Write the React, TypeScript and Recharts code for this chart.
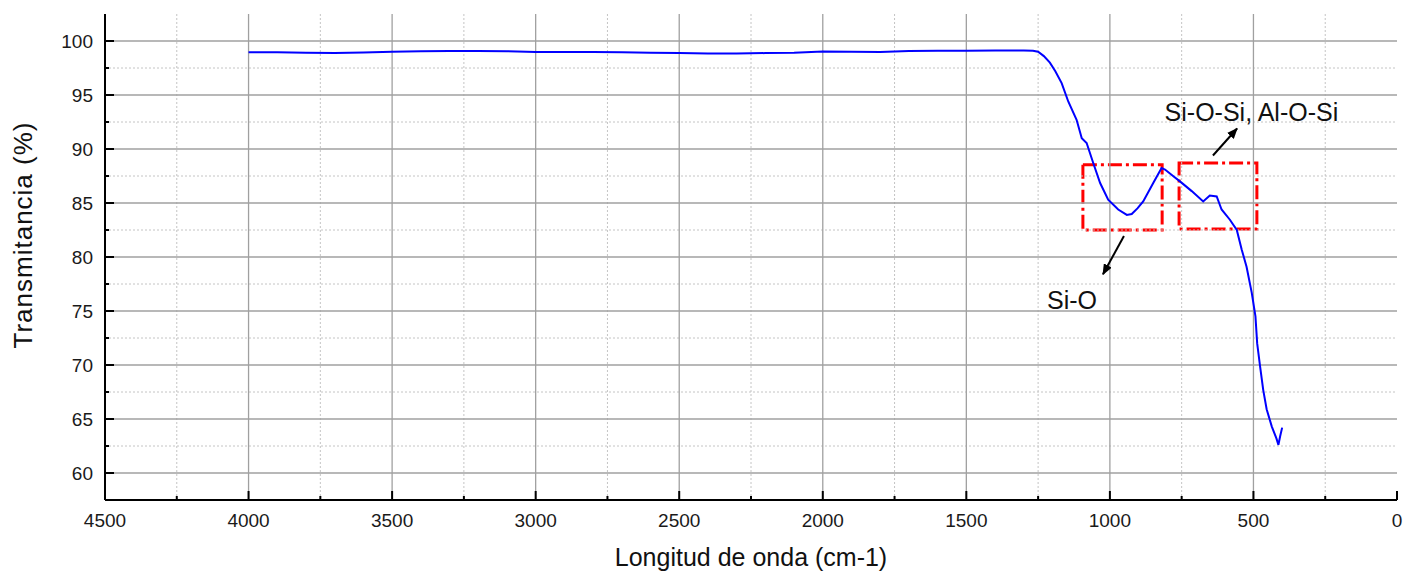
import React from "react"
import { LineChart, Line, XAxis, YAxis, ReferenceLine, ReferenceArea, ReferenceDot } from "recharts"

const wavenumbers = [
  4000, 3900, 3800, 3700, 3600, 3500, 3400, 3300, 3200, 3100, 3000, 2900, 2800, 2700, 2600, 2500, 2400, 2300,
  2200, 2100, 2000, 1900, 1800, 1700, 1600, 1500, 1400, 1300, 1268, 1250, 1230, 1209, 1190, 1168, 1145, 1116,
  1098, 1081, 1058, 1034, 1006, 971, 941, 924, 904, 884, 849, 820, 808, 780, 756, 715, 675, 652, 628, 611, 582,
  558, 541, 524, 506, 493, 487, 477, 466, 454, 436, 420, 413, 407, 400,
]
const transmittance = [
  98.95, 98.95, 98.92, 98.9, 98.93, 99.0, 99.05, 99.07, 99.07, 99.05, 98.98, 98.97, 98.98, 98.95, 98.92, 98.9,
  98.85, 98.85, 98.88, 98.92, 99.02, 99.0, 98.98, 99.08, 99.1, 99.1, 99.12, 99.12, 99.1, 99.0, 98.6, 98.0, 97.2,
  96.1, 94.4, 92.7, 91.0, 90.55, 88.7, 86.85, 85.3, 84.4, 83.9, 83.98, 84.5, 85.15, 86.85, 88.24, 88.1, 87.5,
  87.0, 86.1, 85.15, 85.7, 85.6, 84.4, 83.45, 82.5, 80.7, 79.1, 76.7, 74.5, 72.0, 69.9, 67.7, 65.9, 64.3, 63.2,
  62.6, 63.4, 64.2,
]

const xTicks = [0, 250, 500, 750, 1000, 1250, 1500, 1750, 2000, 2250, 2500, 2750, 3000, 3250, 3500, 3750, 4000, 4250, 4500]
const yTicks = [60, 62.5, 65, 67.5, 70, 72.5, 75, 77.5, 80, 82.5, 85, 87.5, 90, 92.5, 95, 97.5, 100]
const xMajorGrid = [500, 1000, 1500, 2000, 2500, 3000, 3500, 4000]
const xMinorGrid = [250, 750, 1250, 1750, 2250, 2750, 3250, 3750, 4250]
const yMajorGrid = [60, 65, 70, 75, 80, 85, 90, 95, 100]
const yMinorGrid = [62.5, 67.5, 72.5, 77.5, 82.5, 87.5, 92.5, 97.5]

// bands boxed in red: [x1, x2, y1, y2]
const boxes = [
  [1094, 818, 82.5, 88.55],
  [759, 488, 82.6, 88.7],
]
// arrows: [fromX, fromY, toX, toY]
const arrows = [
  [951, 81.95, 1024, 78.4],
  [641, 89.4, 557, 91.9],
]
const notes = [
  { label: "Si-O", x: 1132, y: 76.0 },
  { label: "Si-O-Si, Al-O-Si", x: 507, y: 93.45 },
]

const spectrum = wavenumbers.map((wn, i) => ({ wn, t: transmittance[i] }))

const FONT = '"Liberation Sans", Arial, sans-serif'
const tickText = { fontFamily: FONT, fontSize: 19, fill: "#1a1a1a" }

const BottomTick = (props: any) => {
  const { x, y, payload } = props
  const major = payload.value % 500 === 0
  return (
    <g>
      <line x1={x} x2={x} y1={y} y2={y - (major ? 9 : 4)} stroke="#000" strokeWidth={2} />
      {major && (
        <text x={x} y={y + 20} dy="0.35em" textAnchor="middle" {...tickText}>
          {payload.value}
        </text>
      )}
    </g>
  )
}

const TopTick = (props: any) => {
  const { x, y, payload } = props
  const major = payload.value % 500 === 0
  return <line x1={x} x2={x} y1={y} y2={y + (major ? 9 : 4)} stroke="#000" strokeWidth={2} />
}

const LeftTick = (props: any) => {
  const { x, y, payload } = props
  const major = payload.value % 5 === 0
  return (
    <g>
      <line x1={x} x2={x + (major ? 9 : 4)} y1={y} y2={y} stroke="#000" strokeWidth={2} />
      {major && (
        <text x={x - 12} y={y} dy="0.35em" textAnchor="end" {...tickText}>
          {payload.value}
        </text>
      )}
    </g>
  )
}

const RightTick = (props: any) => {
  const { x, y, payload } = props
  const major = payload.value % 5 === 0
  return <line x1={x} x2={x - (major ? 9 : 4)} y1={y} y2={y} stroke="#000" strokeWidth={2} />
}

const frame = { stroke: "#000", strokeWidth: 2 }

export default function App() {
  return (
    <div style={{ position: "absolute", left: 0, top: 0, background: "#fff" }}>
      <LineChart width={1405} height={571} data={spectrum} margin={{ top: 14, right: 8, bottom: 0, left: 0 }}>
        <defs>
          <marker id="arrowHead" markerWidth={11} markerHeight={9} refX={10} refY={4.5} orient="auto" markerUnits="userSpaceOnUse">
            <path d="M0,0 L11,4.5 L0,9 z" fill="#000" />
          </marker>
        </defs>
        <XAxis
          xAxisId="bottom"
          type="number"
          dataKey="wn"
          domain={[0, 4500]}
          reversed
          allowDataOverflow
          ticks={xTicks}
          interval={0}
          height={71}
          tickSize={0}
          tickMargin={0}
          tickLine={false}
          axisLine={frame}
          tick={<BottomTick />}
          label={() => (
            <text x={751} y={566} textAnchor="middle" fontFamily={FONT} fontSize={25} fill="#111">
              Longitud de onda (cm-1)
            </text>
          )}
        />
        <XAxis
          xAxisId="top"
          orientation="top"
          type="number"
          dataKey="wn"
          domain={[0, 4500]}
          reversed
          allowDataOverflow
          ticks={xTicks}
          interval={0}
          height={0}
          tickSize={0}
          tickMargin={0}
          tickLine={false}
          axisLine={frame}
          tick={<TopTick />}
        />
        <YAxis
          yAxisId="left"
          type="number"
          domain={[57.5, 102.5]}
          allowDataOverflow
          ticks={yTicks}
          interval={0}
          width={105}
          tickSize={0}
          tickMargin={0}
          tickLine={false}
          axisLine={frame}
          tick={<LeftTick />}
          label={() => (
            <text
              x={32}
              y={235}
              transform="rotate(-90 32 235)"
              textAnchor="middle"
              fontFamily={FONT}
              fontSize={26}
              letterSpacing={1}
              fill="#111"
            >
              Transmitancia (%)
            </text>
          )}
        />
        <YAxis
          yAxisId="right"
          orientation="right"
          type="number"
          domain={[57.5, 102.5]}
          allowDataOverflow
          ticks={yTicks}
          interval={0}
          width={0}
          tickSize={0}
          tickMargin={0}
          tickLine={false}
          axisLine={frame}
          tick={<RightTick />}
        />

        {xMinorGrid.map((v) => (
          <ReferenceLine key={"xm" + v} xAxisId="bottom" yAxisId="left" x={v} stroke="#c4c4c4" strokeDasharray="2 2" />
        ))}
        {yMinorGrid.map((v) => (
          <ReferenceLine key={"ym" + v} xAxisId="bottom" yAxisId="left" y={v} stroke="#c4c4c4" strokeDasharray="2 2" />
        ))}
        {xMajorGrid.map((v) => (
          <ReferenceLine key={"xM" + v} xAxisId="bottom" yAxisId="left" x={v} stroke="#a0a0a0" strokeWidth={1.3} />
        ))}
        {yMajorGrid.map((v) => (
          <ReferenceLine key={"yM" + v} xAxisId="bottom" yAxisId="left" y={v} stroke="#a0a0a0" strokeWidth={1.3} />
        ))}

        <Line
          xAxisId="bottom"
          yAxisId="left"
          type="linear"
          dataKey="t"
          stroke="#0000ff"
          strokeWidth={2}
          dot={false}
          activeDot={false}
          isAnimationActive={false}
        />

        {boxes.map(([x1, x2, y1, y2], i) => (
          <ReferenceArea
            key={"box" + i}
            xAxisId="bottom"
            yAxisId="left"
            x1={x1}
            x2={x2}
            y1={y1}
            y2={y2}
            fill="none"
            fillOpacity={0}
            stroke="#ff0000"
            strokeWidth={3}
            strokeDasharray="14 4 3 4"
            ifOverflow="visible"
          />
        ))}
        {arrows.map(([fx, fy, tx, ty], i) => (
          <ReferenceLine
            key={"arr" + i}
            xAxisId="bottom"
            yAxisId="left"
            segment={[
              { x: fx, y: fy },
              { x: tx, y: ty },
            ]}
            stroke="#000"
            strokeWidth={2}
            markerEnd="url(#arrowHead)"
            ifOverflow="visible"
          />
        ))}
        {notes.map((n) => (
          <ReferenceDot
            key={n.label}
            xAxisId="bottom"
            yAxisId="left"
            x={n.x}
            y={n.y}
            r={0}
            fill="none"
            stroke="none"
            ifOverflow="visible"
            label={{ value: n.label, position: "center", fontFamily: FONT, fontSize: 25, fill: "#111" }}
          />
        ))}
      </LineChart>
    </div>
  )
}
